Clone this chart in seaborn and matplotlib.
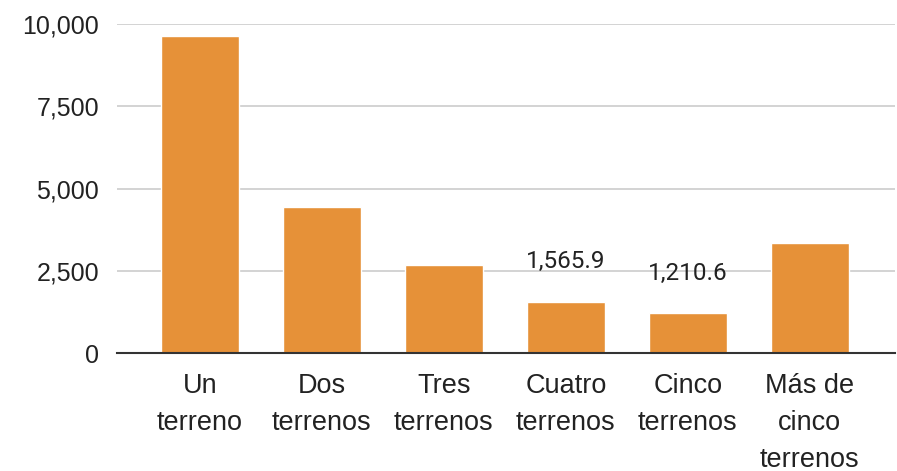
import pandas as pd
import matplotlib.pyplot as plt
import seaborn as sns

# datos
categorias = ['Un\nterreno', 'Dos\nterrenos', 'Tres\nterrenos', 'Cuatro\nterrenos',
              'Cinco\nterrenos', 'Más de\ncinco\nterrenos']
valores = [9650, 4455, 2685, 1565.9, 1210.6, 3340]
etiquetas = ['', '', '', '1,565.9', '1,210.6', '']

df = pd.DataFrame({'categoria': categorias, 'valor': valores})

sns.set_style('white')
plt.rcParams['font.family'] = ['Roboto', 'DejaVu Sans']

fig = plt.figure(figsize=(8.97, 4.71), dpi=100)
ax = fig.add_axes([0.1304, 0.25, 0.8676, 0.699])

sns.barplot(x='categoria', y='valor', data=df, color='#E69138', width=0.64,
            saturation=1, ax=ax, zorder=3)

# etiquetas de valor (solo algunas barras)
for p, txt in zip(ax.patches, etiquetas):
    if txt:
        ax.annotate(txt, (p.get_x() + p.get_width() / 2., p.get_height()),
                    ha='center', va='baseline', xytext=(0, 24),
                    textcoords='offset points', fontsize=17.5, color='#222222')

ax.set_ylim(0, 10000)
ax.set_xlim(-0.68, 5.70)
ax.set_yticks([0, 2500, 5000, 7500, 10000])
ax.set_yticklabels(['0', '2,500', '5,000', '7,500', '10,000'],
                   fontsize=18, family='Liberation Sans', color='#222222')
ax.tick_params(axis='y', length=0, pad=13)
ax.tick_params(axis='x', length=0, pad=14)
for lbl in ax.get_xticklabels():
    lbl.set_family('Liberation Sans')
    lbl.set_fontsize(19.5)
    lbl.set_color('#222222')
    lbl.set_linespacing(1.55)
ax.yaxis.grid(True, color='#cccccc', linewidth=1.2, zorder=0)
ax.set_axisbelow(True)

for s in ['top', 'right', 'left']:
    ax.spines[s].set_visible(False)
ax.spines['bottom'].set_color('#333333')
ax.spines['bottom'].set_linewidth(1.5)
ax.spines['bottom'].set_zorder(4)

ax.set_xlabel('')
ax.set_ylabel('')

plt.savefig('out.png', dpi=100)
